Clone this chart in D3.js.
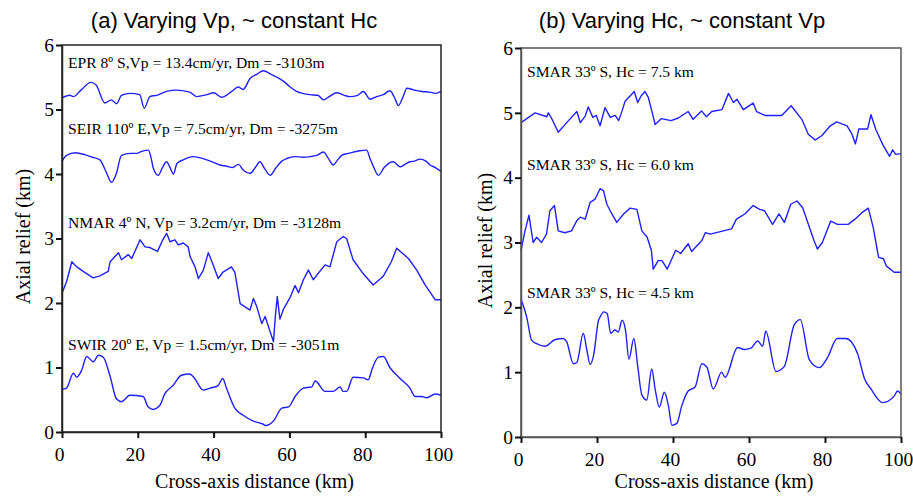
<!DOCTYPE html>
<html>
<head>
<meta charset="utf-8">
<script src="https://cdn.jsdelivr.net/npm/d3@7"></script>
<style>
  body { margin: 0; background: #fff; }
  svg text { fill: #000; }
  .serif { font-family: "Liberation Serif", "Times New Roman", serif; }
  .sans { font-family: "Liberation Sans", Arial, sans-serif; }
  .profile { fill: none; stroke: #1f1fff; stroke-width: 1.4; stroke-linejoin: round; }
</style>
</head>
<body>
<svg id="chart" width="913" height="496"></svg>
<script>
// Axis ticks shared by both panels
const xTicks = [0, 20, 40, 60, 80, 100];
const yTicks = [0, 1, 2, 3, 4, 5, 6];

// (a) Varying Vp, profiles as [cross-axis km, axial relief km]
const eprProfile = [
  [0, 5.18], [2, 5.22], [3, 5.2], [5, 5.3], [7.6, 5.42], [9, 5.38], [11.3, 5.1], [13, 5.15],
  [14.4, 5.09], [15.7, 5.22], [18, 5.25], [20.5, 5.23], [21.7, 5.02], [23.2, 5.2], [25, 5.22],
  [27.6, 5.28], [30, 5.3], [33.7, 5.27], [35.5, 5.2], [38.2, 5.23], [40, 5.26], [42.1, 5.19],
  [44.8, 5.28], [46.5, 5.35], [47.8, 5.31], [49.6, 5.48], [51.5, 5.55], [53.1, 5.6], [55.3, 5.54],
  [58.4, 5.44], [60, 5.36], [61.9, 5.28], [63.5, 5.25], [65.4, 5.23], [67.5, 5.22], [69, 5.15],
  [70.5, 5.2], [72.5, 5.26], [74.5, 5.22], [76, 5.2], [78, 5.22], [79.5, 5.28], [81.3, 5.16],
  [83, 5.2], [84.8, 5.23], [86.5, 5.29], [88, 5.15], [88.7, 5.06], [90, 5.2], [91, 5.33],
  [93, 5.3], [95, 5.28], [97, 5.27], [98.5, 5.25], [100, 5.28]
];
const seirProfile = [
  [0, 4.2], [1.2, 4.29], [3.5, 4.33], [6, 4.3], [8, 4.26], [10, 4.22], [11.5, 4.05], [13.1, 3.87],
  [14.3, 4.0], [15.7, 4.29], [18, 4.32], [19.7, 4.32], [21, 4.35], [22.8, 4.37], [23.5, 4.25],
  [24.1, 4.09], [25.4, 3.98], [26.5, 4.1], [27.6, 4.19], [28.5, 4.1], [29.4, 4.0], [30.3, 4.16],
  [32, 4.22], [34.6, 4.27], [36.5, 4.25], [38.2, 4.22], [40, 4.18], [41.7, 4.14], [43.5, 4.12],
  [45, 4.1], [46.5, 4.15], [48, 4.05], [49.6, 4.01], [51, 4.1], [52.2, 4.19], [53.5, 4.08],
  [54.9, 3.98], [56.5, 4.1], [58, 4.2], [59.3, 4.24], [61.5, 4.27], [63.7, 4.26], [65.5, 4.27],
  [67.2, 4.29], [69, 4.34], [70.2, 4.25], [71.6, 4.14], [72.5, 4.2], [73.8, 4.29], [75.5, 4.32],
  [76.9, 4.34], [78.5, 4.36], [80.4, 4.37], [81.2, 4.25], [82.2, 4.11], [83.5, 3.98], [85, 4.1],
  [86.3, 4.17], [87.4, 4.19], [89.2, 4.11], [90.5, 4.15], [91.8, 4.19], [93, 4.2], [94.5, 4.23],
  [96, 4.2], [97.1, 4.14], [98.5, 4.1], [100, 4.04]
];
const nmarProfile = [
  [0, 2.15], [1.2, 2.33], [2.6, 2.64], [3.9, 2.56], [5.6, 2.49], [7.4, 2.42], [8.2, 2.39],
  [10, 2.42], [12.2, 2.49], [12.7, 2.64], [14.9, 2.78], [15.7, 2.67], [17.5, 2.75], [18.4, 2.69],
  [20.6, 2.98], [21.9, 2.87], [23.2, 2.86], [25.2, 2.8], [26.6, 2.98], [27.6, 3.08], [28.5, 2.95],
  [29.8, 2.98], [30.7, 2.9], [32, 2.93], [33.3, 2.87], [33.8, 2.72], [35.1, 2.56], [36, 2.38],
  [37.3, 2.51], [38.6, 2.78], [39.9, 2.59], [41.2, 2.38], [42.5, 2.48], [44.7, 2.56], [45.6, 2.48],
  [47, 1.99], [48.3, 1.94], [49.6, 1.89], [50.5, 2.07], [51.4, 1.94], [52.7, 1.68], [53.6, 1.79],
  [54.5, 1.63], [55.8, 1.4], [56.3, 1.8], [56.8, 2.1], [57.5, 1.75], [58.4, 1.9], [60.3, 2.1],
  [61, 2.2], [61.5, 2.27], [62.4, 2.16], [63.7, 2.36], [65, 2.51], [66.3, 2.36], [67.6, 2.46],
  [69.4, 2.59], [70.7, 2.56], [72.5, 2.95], [74.2, 3.03], [75.1, 3.0], [76.8, 2.67], [79.4, 2.46],
  [82.1, 2.28], [84.7, 2.41], [86.9, 2.64], [88.3, 2.85], [91.4, 2.69], [93.6, 2.51], [95.8, 2.28],
  [98.5, 2.05], [100, 2.05]
];
const swirProfile = [
  [0, 0.66], [1.2, 0.68], [3, 0.91], [3.9, 0.85], [5.2, 0.96], [6.5, 1.17], [8.3, 1.09], [9.6, 1.19],
  [10.9, 1.16], [12.7, 0.86], [14.4, 0.51], [15.7, 0.47], [17.9, 0.57], [21.4, 0.55], [22.7, 0.39],
  [24, 0.35], [25.8, 0.41], [27.1, 0.59], [29.3, 0.72], [31.5, 0.88], [33.7, 0.9], [34.6, 0.86],
  [37.3, 0.65], [39.1, 0.68], [41.2, 0.72], [42.4, 0.83], [43.4, 0.68], [45.6, 0.37], [47.8, 0.26],
  [50.5, 0.17], [53.1, 0.12], [53.8, 0.1], [55.8, 0.17], [58, 0.37], [59.8, 0.39], [61.5, 0.55],
  [63.7, 0.68], [65.9, 0.7], [66.8, 0.79], [69.4, 0.63], [71.6, 0.63], [73.4, 0.7], [74.1, 0.63],
  [75.1, 0.63], [76.8, 0.85], [79.5, 0.84], [80.8, 0.81], [81.9, 0.99], [83.5, 1.16], [84.8, 1.17],
  [86.5, 1.0], [89.2, 0.83], [91.8, 0.68], [93.2, 0.55], [94.9, 0.55], [96.2, 0.53], [98.5, 0.59],
  [100, 0.57]
];

// (b) Varying Hc, SMAR 33º S profiles
const smar75Profile = [
  [0, 4.85], [3.7, 5.0], [6.8, 4.94], [7.2, 5.0], [8, 4.92], [9.8, 4.7], [12.5, 4.88], [14.7, 5.02],
  [15.6, 4.85], [16.9, 4.95], [17.7, 5.09], [18.9, 4.93], [19.8, 4.96], [20.8, 4.8], [22.1, 5.08],
  [23.5, 4.93], [24.8, 4.96], [25.7, 4.88], [26.6, 5.03], [27.4, 5.18], [28.7, 5.26], [29.8, 5.33],
  [30.7, 5.16], [31.6, 5.26], [32.6, 5.33], [33.5, 5.24], [34.2, 5.08], [35.3, 4.82], [36.9, 4.91],
  [39.5, 4.88], [41.4, 4.92], [44, 5.02], [45.3, 4.9], [47.5, 5.03], [48.8, 4.94], [50.2, 5.02],
  [52.9, 5.05], [54.6, 5.3], [55.9, 5.16], [56.8, 5.21], [58.5, 5.05], [61.1, 5.15], [62, 5.02],
  [64.2, 4.96], [68.6, 4.96], [71.1, 5.11], [73.9, 4.9], [75.6, 4.67], [77.4, 4.58], [79.2, 4.65],
  [81.4, 4.8], [83.1, 4.86], [85.8, 4.8], [87.1, 4.67], [88, 4.52], [88.9, 4.75], [91.2, 4.75],
  [92.1, 4.97], [93.4, 4.74], [95.2, 4.51], [97, 4.33], [97.8, 4.43], [98.6, 4.36], [100, 4.37]
];
const smar60Profile = [
  [0, 2.88], [1.05, 3.18], [2.1, 3.42], [3.2, 3.0], [4.1, 3.08], [5.4, 3.0], [6.7, 3.13], [7.6, 3.49],
  [8.8, 3.57], [9.8, 3.18], [11.5, 3.15], [13.3, 3.18], [14.7, 3.34], [15.6, 3.39], [16.9, 3.36],
  [18.2, 3.62], [19.5, 3.67], [20.8, 3.83], [21.7, 3.8], [22.6, 3.59], [23.9, 3.44], [25.2, 3.31],
  [27, 3.44], [28.7, 3.53], [30.5, 3.51], [31.8, 3.18], [33.2, 3.08], [34.3, 2.88], [34.8, 2.59],
  [36.1, 2.72], [37.1, 2.72], [38.5, 2.59], [40.7, 2.88], [42, 2.83], [44, 2.98], [44.9, 2.86],
  [47.6, 3.03], [48.5, 3.15], [49.8, 3.13], [55.4, 3.21], [56.7, 3.36], [58.9, 3.44], [61.1, 3.57],
  [62.8, 3.51], [64.1, 3.49], [66.2, 3.28], [67.9, 3.44], [69.3, 3.31], [71, 3.59], [72.6, 3.64],
  [74.1, 3.54], [77.1, 3.03], [78, 2.9], [79.3, 3.0], [81.5, 3.33], [83.3, 3.28], [86.1, 3.28],
  [87.9, 3.36], [89.7, 3.46], [91.4, 3.53], [92.7, 3.23], [94.1, 2.77], [95.4, 2.75], [96.1, 2.64],
  [98.2, 2.54], [100, 2.54]
];
const smar45Profile = [
  [0, 2.13], [1.5, 1.85], [2.8, 1.49], [4.1, 1.44], [6.3, 1.4], [8.9, 1.5], [11.1, 1.52], [12, 1.47],
  [13.8, 1.13], [14.7, 1.15], [16.4, 1.6], [17.3, 1.35], [18.2, 1.12], [19.1, 1.26], [20.4, 1.8],
  [20.8, 1.85], [21.8, 1.93], [22.7, 1.9], [23.6, 1.6], [24.7, 1.65], [25.6, 1.62], [26.6, 1.8],
  [27.5, 1.65], [28.4, 1.2], [29.7, 1.52], [30.7, 1.1], [31.8, 0.65], [33.1, 0.57], [34.4, 1.05],
  [35.3, 0.74], [36.4, 0.46], [37.7, 0.69], [38.8, 0.48], [39.7, 0.18], [41, 0.21], [42.3, 0.48],
  [44, 0.71], [45.8, 0.77], [47.6, 1.13], [48.9, 1.08], [50.6, 0.74], [52.8, 1.0], [53.7, 0.92],
  [57, 1.38], [58.8, 1.35], [60.5, 1.37], [62.3, 1.48], [63.6, 1.4], [64.4, 1.63], [67.1, 1.01],
  [69.3, 1.09], [71.9, 1.73], [73.5, 1.81], [75.9, 1.19], [78.5, 1.07], [80.7, 1.23], [83.2, 1.52],
  [85.5, 1.52], [88.6, 1.28], [90.4, 0.9], [92.1, 0.74], [95.2, 0.53], [98.2, 0.63], [99.1, 0.71],
  [100, 0.66]
];

const panelA = {
  title: '(a) Varying Vp, ~ constant Hc',
  titleX: 234,
  left: 62, right: 441, top: 45, bottom: 432,
  frame: '#222',
  ylabelX: 30,
  profiles: [
    {data: eprProfile, label: 'EPR 8º S,Vp = 13.4cm/yr, Dm = -3103m', ly: 68, curve: d3.curveMonotoneX},
    {data: seirProfile, label: 'SEIR 110º E,Vp = 7.5cm/yr, Dm = -3275m', ly: 134, curve: d3.curveMonotoneX},
    {data: nmarProfile, label: 'NMAR 4º N, Vp = 3.2cm/yr, Dm = -3128m', ly: 228, curve: d3.curveLinear},
    {data: swirProfile, label: 'SWIR 20º E, Vp = 1.5cm/yr, Dm = -3051m', ly: 350, curve: d3.curveMonotoneX}
  ]
};
const panelB = {
  title: '(b) Varying Hc, ~ constant Vp',
  titleX: 682,
  left: 521, right: 901, top: 48, bottom: 437,
  frame: '#555',
  ylabelX: 492,
  profiles: [
    {data: smar75Profile, label: 'SMAR 33º S, Hc = 7.5 km', ly: 77, curve: d3.curveLinear},
    {data: smar60Profile, label: 'SMAR 33º S, Hc = 6.0 km', ly: 170, curve: d3.curveLinear},
    {data: smar45Profile, label: 'SMAR 33º S, Hc = 4.5 km', ly: 298, curve: d3.curveMonotoneX}
  ]
};

const svg = d3.select('#chart');

function drawPanel(p) {
  const x = d3.scaleLinear().domain([0, 100]).range([p.left, p.right]);
  const y = d3.scaleLinear().domain([0, 6]).range([p.bottom, p.top]);
  const g = svg.append('g');

  // Profiles first, frame and labels on top
  g.selectAll('path.profile')
    .data(p.profiles)
    .enter().append('path')
    .attr('class', 'profile')
    .attr('d', d => d3.line().x(v => x(v[0])).y(v => y(v[1])).curve(d.curve)(d.data));

  g.selectAll('text.label')
    .data(p.profiles)
    .enter().append('text')
    .attr('class', 'serif label')
    .attr('x', p.left + 6)
    .attr('y', d => d.ly)
    .style('font-size', '15.6px')
    .text(d => d.label);

  // Frame
  g.append('rect')
    .attr('x', p.left).attr('y', p.top)
    .attr('width', p.right - p.left).attr('height', p.bottom - p.top)
    .attr('fill', 'none').attr('stroke', p.frame).attr('stroke-width', 1.5);

  const xAxis = g.append('g')
    .attr('transform', `translate(0,${p.bottom})`)
    .call(d3.axisBottom(x).tickValues(xTicks).tickSize(6).tickPadding(9).tickSizeOuter(0));
  const yAxis = g.append('g')
    .attr('transform', `translate(${p.left},0)`)
    .call(d3.axisLeft(y).tickValues(yTicks).tickFormat(d3.format('d'))
          .tickSize(6).tickPadding(2).tickSizeOuter(0));
  for (const ax of [xAxis, yAxis]) {
    ax.select('.domain').attr('stroke', p.frame).attr('stroke-width', 1.5);
    ax.selectAll('.tick line').attr('stroke', '#111').attr('stroke-width', 2);
    ax.selectAll('.tick text')
      .attr('class', 'serif')
      .style('font-size', '19.5px');
  }
  xAxis.selectAll('.tick text').attr('dx', -3);
  yAxis.selectAll('.tick text').attr('dy', '0.32em');

  // Titles
  svg.append('text')
    .attr('class', 'sans')
    .attr('x', p.titleX).attr('y', 28)
    .attr('text-anchor', 'middle')
    .style('font-size', '22px')
    .text(p.title);
  svg.append('text')
    .attr('class', 'serif')
    .attr('x', (p.left + p.right) / 2 + 3).attr('y', 488)
    .attr('text-anchor', 'middle')
    .style('font-size', '20px')
    .text('Cross-axis distance (km)');
  svg.append('text')
    .attr('class', 'serif')
    .attr('transform', `translate(${p.ylabelX},${(p.top + p.bottom) / 2 - 2}) rotate(-90)`)
    .attr('text-anchor', 'middle')
    .style('font-size', '20px')
    .text('Axial relief (km)');
}

drawPanel(panelA);
drawPanel(panelB);
</script>
</body>
</html>
